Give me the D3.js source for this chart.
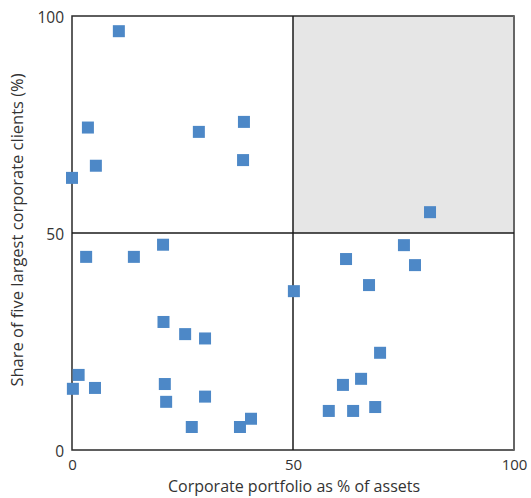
<!DOCTYPE html>
<html><head><meta charset="utf-8">
<script src="https://cdn.jsdelivr.net/npm/d3@7"></script>
<style>body{margin:0;background:#fff;}svg{display:block;}text{font-family:"Open Sans","Noto Sans",sans-serif;fill:#333;}</style>
</head><body>
<svg id="c" width="531" height="498"></svg>
<script>
const portfolioPct = [10.6,3.6,5.4,0,28.7,38.9,38.7,81.0,20.6,3.2,14.0,50.2,20.7,25.6,30.1,1.5,0.2,5.2,21.0,21.3,30.1,27.1,38.0,40.5,75.1,62.0,77.6,67.2,69.7,65.4,61.3,58.1,63.6,68.6];
const clientShare  = [96.5,74.3,65.5,62.7,73.3,75.6,66.8,54.8,47.3,44.5,44.5,36.6,29.5,26.7,25.7,17.3,14.1,14.3,15.2,11.1,12.3,5.3,5.3,7.2,47.2,44.0,42.6,38.0,22.4,16.4,15.0,9.0,9.0,9.9];
const tickValues = [0,50,100];
const xTitle = "Corporate portfolio as % of assets";
const yTitle = "Share of five largest corporate clients (%)";

const svg = d3.select("#c");
const L=72,R=514,T=16,B=450;
const x = d3.scaleLinear().domain([0,100]).range([L,R]);
const y = d3.scaleLinear().domain([0,100]).range([B,T]);

// shaded quadrant
svg.append("rect").attr("x",x(50)).attr("y",y(100)).attr("width",x(100)-x(50)).attr("height",y(50)-y(100)).attr("fill","#e6e6e6");

// frame
svg.append("rect").attr("x",L).attr("y",T).attr("width",R-L).attr("height",B-T).attr("fill","none").attr("stroke","#2a2a2a").attr("stroke-width",1.5);
svg.append("line").attr("x1",R).attr("x2",R).attr("y1",T).attr("y2",B).attr("stroke","#666").attr("stroke-width",2);
// mid lines
svg.append("line").attr("x1",x(50)).attr("x2",x(50)).attr("y1",T).attr("y2",B).attr("stroke","#1a1a1a").attr("stroke-width",1.5);
svg.append("line").attr("x1",L).attr("x2",R).attr("y1",y(50)).attr("y2",y(50)).attr("stroke","#1a1a1a").attr("stroke-width",1.5);

// axes
const xa = svg.append("g").attr("transform",`translate(0,${B})`).call(d3.axisBottom(x).tickValues(tickValues).tickSize(0).tickPadding(0));
xa.select(".domain").remove();
xa.selectAll("text").attr("font-size",15).style("font-family","'Open Sans','Noto Sans',sans-serif").attr("fill","#333").attr("y",20).attr("dy",null);
const ya = svg.append("g").attr("transform",`translate(${L},0)`).call(d3.axisLeft(y).tickValues(tickValues).tickSize(0).tickPadding(8));
ya.select(".domain").remove();
ya.selectAll("text").attr("font-size",15.5).style("font-family","'Open Sans','Noto Sans',sans-serif").attr("fill","#333").attr("dy","0.4em");

// titles
svg.append("text").attr("x",294).attr("y",492).attr("text-anchor","middle").attr("font-size",16).text(xTitle);
svg.append("text").attr("transform",`translate(23,230) rotate(-90)`).attr("text-anchor","middle").attr("font-size",16.5).text(yTitle);

// points
const s=12;
svg.append("g").selectAll("rect").data(portfolioPct.map((v,i)=>[v,clientShare[i]])).join("rect")
  .attr("x",d=>x(d[0])-s/2).attr("y",d=>y(d[1])-s/2).attr("width",s).attr("height",s).attr("fill","#4d88c7");
</script>
</body></html>
